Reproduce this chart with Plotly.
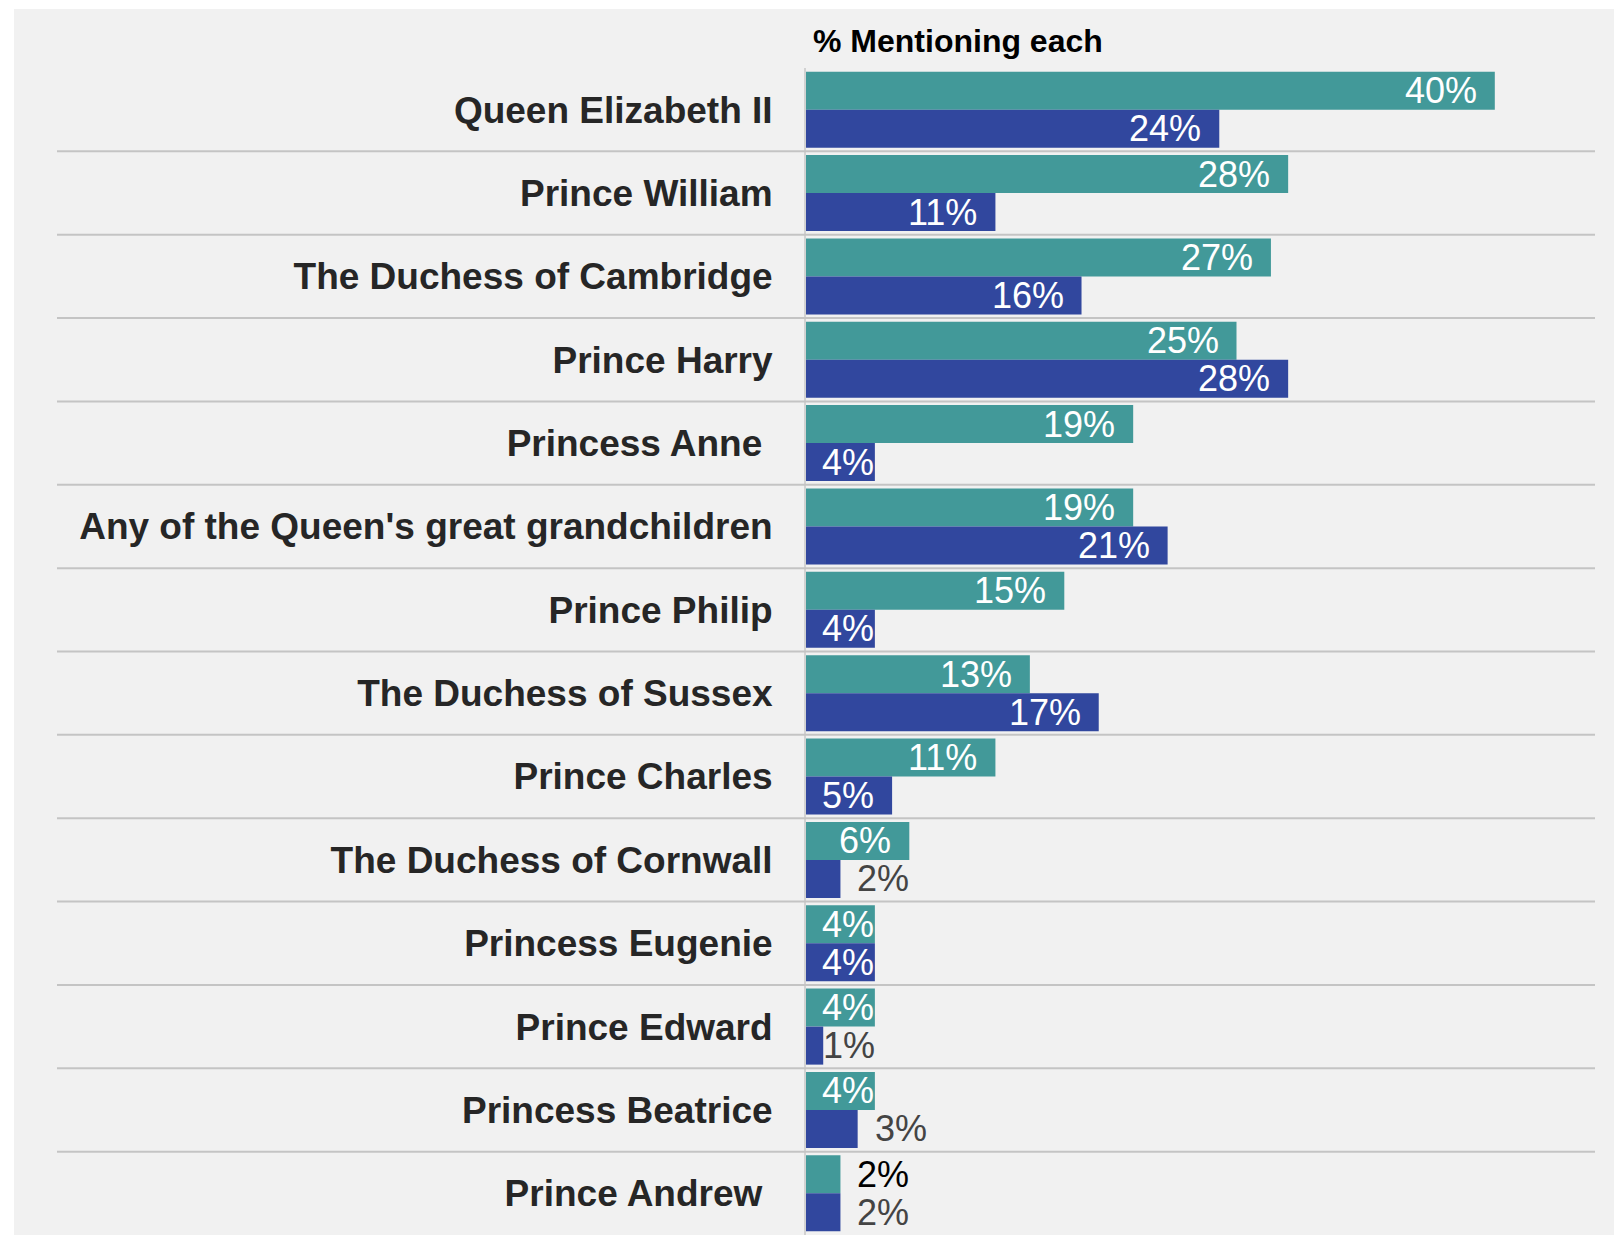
import plotly.graph_objects as go

# ---- data ----
categories = [
    "Queen Elizabeth II",
    "Prince William",
    "The Duchess of Cambridge",
    "Prince Harry",
    "Princess Anne ",
    "Any of the Queen's great grandchildren",
    "Prince Philip",
    "The Duchess of Sussex",
    "Prince Charles",
    "The Duchess of Cornwall",
    "Princess Eugenie",
    "Prince Edward",
    "Princess Beatrice",
    "Prince Andrew ",
]
series_a = [40, 28, 27, 25, 19, 19, 15, 13, 11, 6, 4, 4, 4, 2]
series_b = [24, 11, 16, 28, 4, 21, 4, 17, 5, 2, 4, 1, 3, 2]
title_text = "% Mentioning each"

# ---- styling ----
TEAL = "#429999"
BLUE = "#31479e"
PANEL = "#f1f1f1"
FONT = "Liberation Sans, Arial, sans-serif"
OFF = 8  # page body margin
W, H = 1607, 1227
ML, MR, MT, MB = 798, 20, 60, 0
plot_w = W - ML - MR
plot_h = H - MT - MB
px_per_pct = 17.22
xmax = plot_w / px_per_pct
BARGAP = 0.088
row_px = plot_h / len(categories)
half_bar_px = (1 - BARGAP) / 4 * row_px  # distance from row centre to bar centre
LBL_SIZE = 36
PAD = 17


def text_width(s, size):
    w = 0.0
    for ch in s:
        w += 0.889 if ch == "%" else 0.556
    return w * size


fig = go.Figure()
for vals, color in ((series_a, TEAL), (series_b, BLUE)):
    fig.add_trace(go.Bar(
        y=categories, x=vals, orientation="h", marker_color=color,
        marker_line_width=0, hoverinfo="skip", showlegend=False,
    ))

annotations = []
for vals, yshift, out_color in ((series_a, half_bar_px, "#000000"),
                                (series_b, -half_bar_px, "#444444")):
    for cat, v in zip(categories, vals):
        label = f"{v}%"
        bar_px = v * px_per_pct
        tw = text_width(label, LBL_SIZE)
        if bar_px >= tw + PAD - 2:
            # inside: right aligned near bar end, clamped near axis
            if bar_px - PAD - tw >= PAD - 1:
                ann = dict(x=v, xanchor="right", xshift=-PAD)
            else:
                ann = dict(x=0, xanchor="right", xshift=bar_px)
            color = "white"
        elif bar_px <= PAD + 1:
            # very thin bar: label starts at the clamp position near axis
            ann = dict(x=0, xanchor="left", xshift=PAD - 1)
            color = out_color
        else:
            ann = dict(x=v, xanchor="left", xshift=PAD - 1)
            color = out_color
        ann.update(dict(
            text=label, y=cat, xref="x", yref="y", yanchor="middle",
            yshift=yshift, showarrow=False, borderpad=0,
            font=dict(family=FONT, size=LBL_SIZE, color=color),
        ))
        annotations.append(ann)

annotations.append(dict(
    text=f"<b>{title_text}</b>", xref="paper", yref="paper",
    x=(811 - OFF - ML) / plot_w, y=1 + (MT - (41 - OFF)) / plot_h,
    xanchor="left", yanchor="middle", showarrow=False,
    font=dict(family=FONT, size=32, color="#000000"),
))

shapes = []
# grey panel
shapes.append(dict(
    type="rect", xref="paper", yref="paper", layer="below",
    x0=(14 - OFF - ML) / plot_w, x1=(1614 - OFF - ML) / plot_w,
    y0=-0.05, y1=1 + (MT - (9 - OFF)) / plot_h,
    fillcolor=PANEL, line=dict(width=0),
))
# separators between categories
for i in range(len(categories) - 1):
    shapes.append(dict(
        type="line", xref="paper", yref="y", layer="above",
        x0=(57 - OFF - ML) / plot_w, x1=(1595 - OFF - ML) / plot_w,
        y0=i + 0.5, y1=i + 0.5,
        line=dict(color="#c4c4c4", width=2),
    ))

fig.update_layout(
    width=W, height=H,
    margin=dict(l=ML, r=MR, t=MT, b=MB, pad=0),
    paper_bgcolor="white", plot_bgcolor=PANEL,
    barmode="group", bargap=BARGAP, bargroupgap=0,
    font=dict(family=FONT),
    shapes=shapes,
    annotations=annotations,
    xaxis=dict(range=[0, xmax], showgrid=False, zeroline=False,
               showticklabels=False, showline=False, fixedrange=True),
    yaxis=dict(autorange="reversed", showgrid=False, zeroline=False,
               showline=True, linecolor="#d2d2d2", linewidth=2,
               ticks="", ticklabelstandoff=24,
               tickfont=dict(family=FONT, size=37, color="#262626", weight="bold")),
)

fig.write_html("out.html")
